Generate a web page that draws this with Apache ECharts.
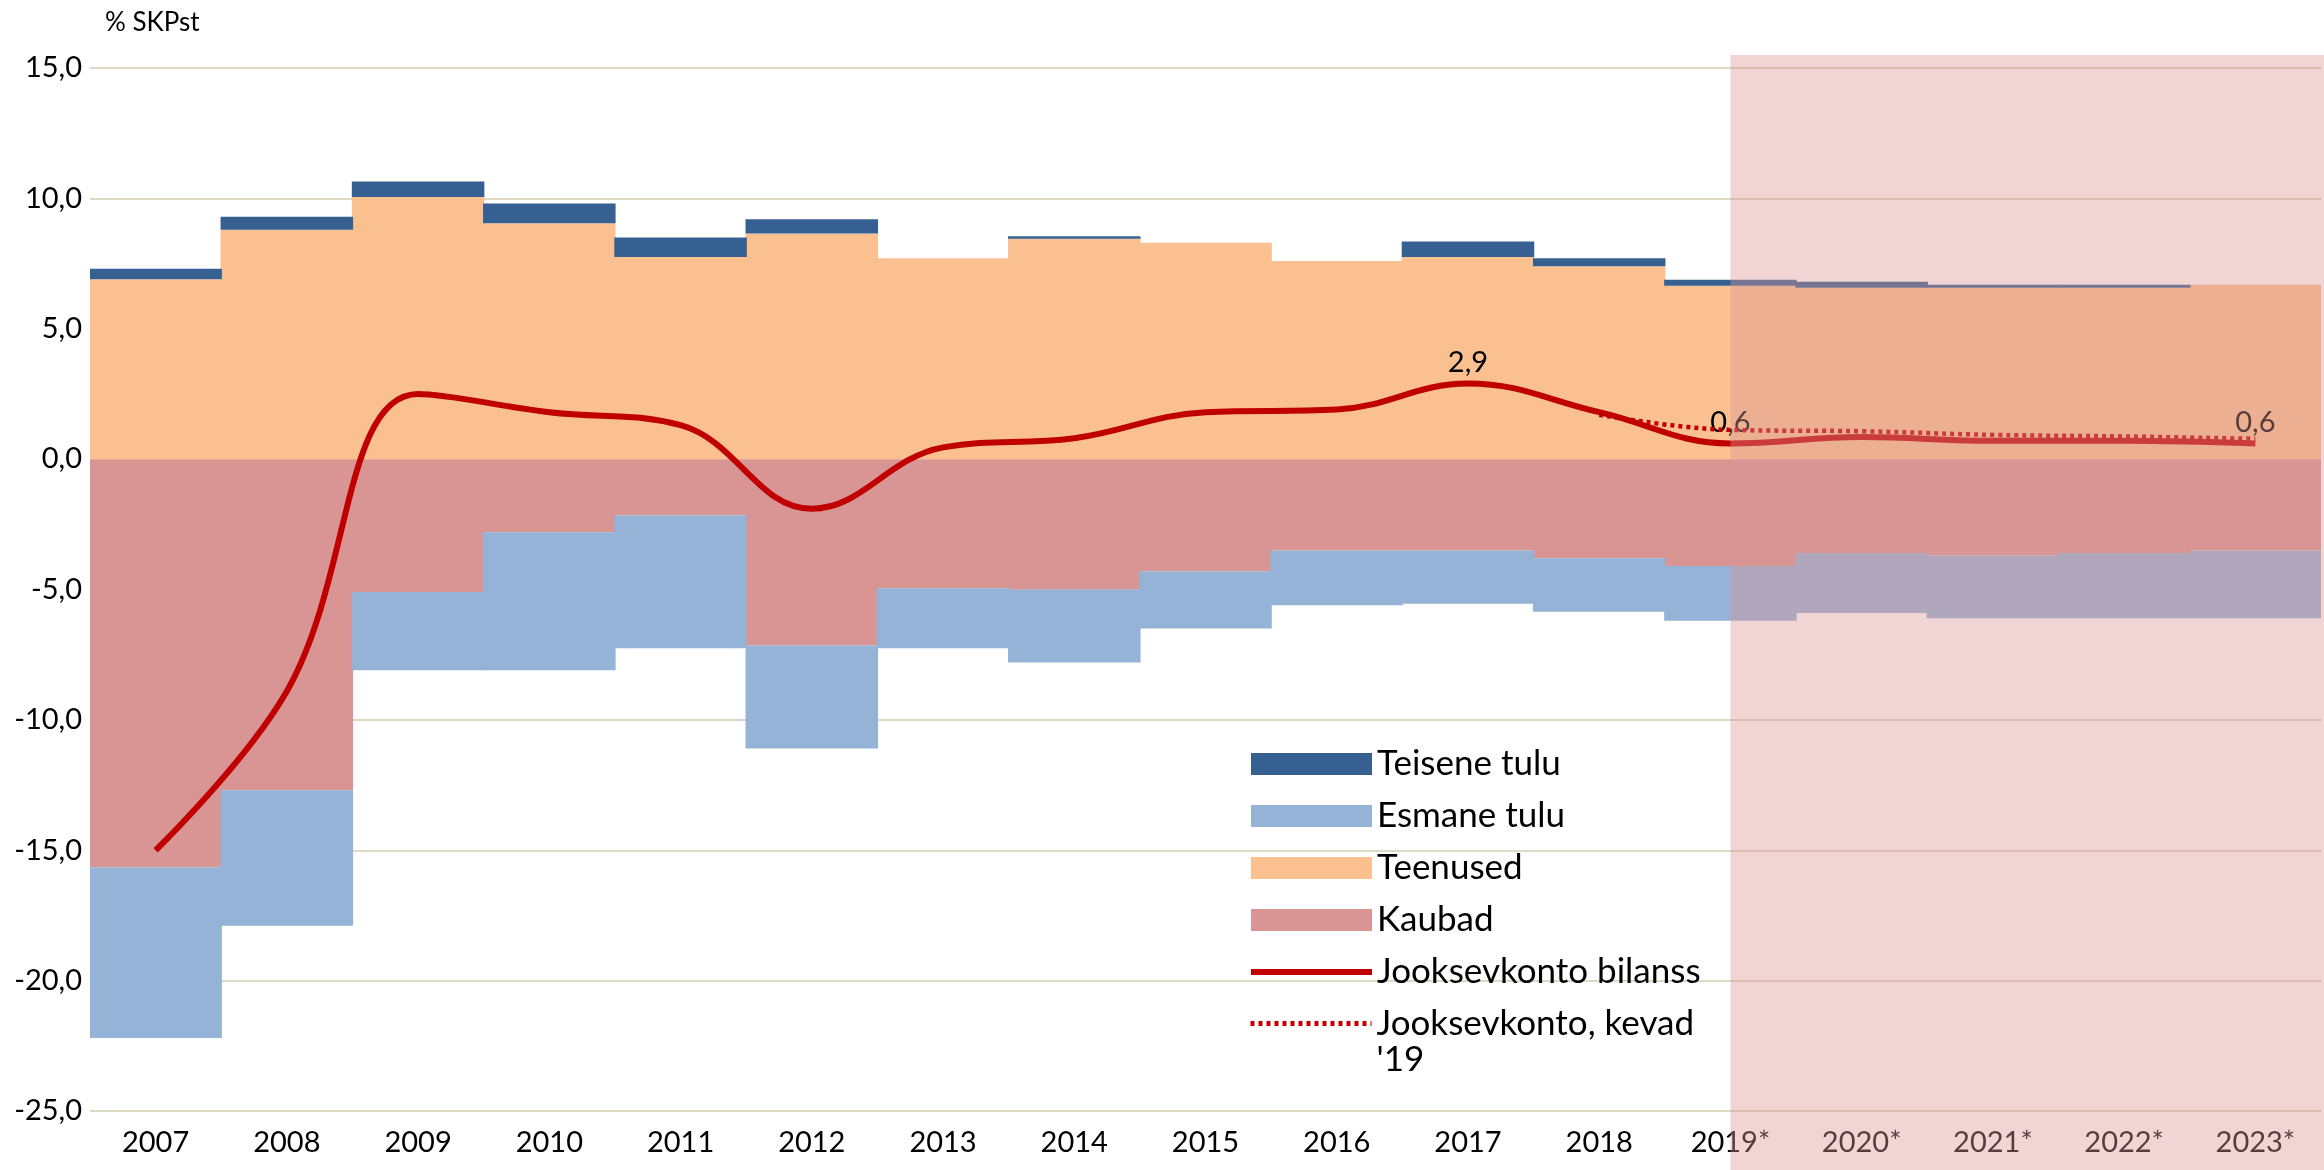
<!DOCTYPE html>
<html>
<head>
<meta charset="utf-8">
<title>Jooksevkonto</title>
<script src="https://cdn.jsdelivr.net/npm/echarts@6/dist/echarts.min.js"></script>
<style>
  html, body { margin: 0; padding: 0; background: #fff; }
  #chart { width: 2324px; height: 1170px; }
</style>
</head>
<body>
<div id="chart"></div>
<script>
// andmed (% SKPst)
var years = ['2007', '2008', '2009', '2010', '2011', '2012', '2013', '2014', '2015',
  '2016', '2017', '2018', '2019*', '2020*', '2021*', '2022*', '2023*'];
var teisene = [0.4, 0.5, 0.6, 0.75, 0.75, 0.55, 0, 0.1, 0, 0, 0.6, 0.3, 0.23, 0.23, 0.12, 0.12, 0];
var esmane = [-6.55, -5.2, -3.0, -5.3, -5.1, -3.95, -2.3, -2.8, -2.2, -2.1, -2.05, -2.05, -2.1, -2.3, -2.4, -2.5, -2.6];
var teenused = [6.9, 8.8, 10.05, 9.05, 7.75, 8.65, 7.7, 8.45, 8.3, 7.6, 7.75, 7.4, 6.65, 6.57, 6.57, 6.57, 6.69];
var kaubad = [-15.65, -12.7, -5.1, -2.8, -2.15, -7.15, -4.95, -5.0, -4.3, -3.5, -3.5, -3.8, -4.1, -3.6, -3.7, -3.6, -3.5];
var bilanss = [-15.0, -8.9, 2.5, 1.8, 1.3, -1.9, 0.45, 0.8, 1.8, 1.9, 2.9, 1.8, 0.6, 0.85, 0.7, 0.7, 0.6];
var kevad19 = [null, null, null, null, null, null, null, null, null, null, null, 1.7, 1.12, 1.07, 0.93, 0.87, 0.78];
var labelYears = ['2017', '2019*', '2023*'];
var forecastFrom = '2019*';

var font = 'Lato, "Open Sans", sans-serif';

function fmt(v) {
  return Number(v).toFixed(1).replace('.', ',');
}

var bilanssData = bilanss.map(function(v, i) {
  if (labelYears.indexOf(years[i]) < 0) return v;
  return {
    value: v,
    symbol: 'circle',
    symbolSize: 0.1,
    label: { show: true }
  };
});

// veidi üle 100%, et tulpade vahele ei jääks heledaid triipe
function barSeries(name, color, data) {
  return {
    name: name,
    type: 'bar',
    stack: 'jk',
    barWidth: '101%',
    itemStyle: { color: color },
    data: data
  };
}

var chart = echarts.init(document.getElementById('chart'));

var option = {
  animation: false,
  backgroundColor: '#fff',
  textStyle: { fontFamily: font },
  title: {
    text: '% SKPst',
    left: 100,
    top: 5,
    textStyle: { fontSize: 26, fontWeight: 'normal', color: '#000', fontFamily: font }
  },
  grid: { left: 90, right: 3, top: 68, bottom: 59 },
  legend: [{
    orient: 'vertical',
    left: 1248,
    top: 746,
    padding: 0,
    itemWidth: 121,
    itemHeight: 22,
    itemGap: 16,
    selectedMode: false,
    textStyle: { fontSize: 35, lineHeight: 36, color: '#000', fontFamily: font },
    data: [
      { name: 'Teisene tulu', icon: 'rect' },
      { name: 'Esmane tulu', icon: 'rect' },
      { name: 'Teenused', icon: 'rect' },
      { name: 'Kaubad', icon: 'rect' },
      { name: 'Jooksevkonto bilanss', itemStyle: { opacity: 0 }, lineStyle: { width: 6 } }
    ]
  }, {
    orient: 'vertical',
    left: 1248,
    top: 970,
    padding: 0,
    itemWidth: 121,
    itemHeight: 22,
    selectedMode: false,
    textStyle: {
      fontSize: 35,
      color: '#000',
      fontFamily: font,
      rich: {
        e: { fontSize: 35, lineHeight: 36, fontFamily: font },
        a: { fontSize: 35, lineHeight: 36, color: '#000', fontFamily: font }
      }
    },
    // esimene rida ikooni kõrgusele
    formatter: function(name) {
      return '{e| }\n' + name.split('\n').map(function(s) { return '{a|' + s + '}'; }).join('\n');
    },
    data: [{ name: 'Jooksevkonto, kevad\n\'19', itemStyle: { opacity: 0 }, lineStyle: { width: 5 } }]
  }],
  xAxis: {
    type: 'category',
    data: years,
    boundaryGap: true,
    axisLine: { show: false },
    axisTick: { show: false },
    axisLabel: { fontSize: 29, color: '#000', margin: 17, fontFamily: font }
  },
  yAxis: {
    type: 'value',
    min: -25,
    max: 15,
    interval: 5,
    axisLine: { show: false },
    axisTick: { show: false },
    axisLabel: { fontSize: 29, color: '#000', margin: 8, fontFamily: font, formatter: fmt },
    splitLine: { lineStyle: { color: '#DDD9C3', width: 2 } }
  },
  series: [
    barSeries('Kaubad', '#D99594', kaubad),
    barSeries('Teenused', '#FAC090', teenused),
    barSeries('Esmane tulu', '#95B3D7', esmane),
    barSeries('Teisene tulu', '#376092', teisene),
    {
      name: 'Jooksevkonto bilanss',
      type: 'line',
      smooth: 0.4,
      symbol: 'none',
      lineStyle: { color: '#C00000', width: 6 },
      itemStyle: { color: '#C00000' },
      label: {
        position: 'top',
        distance: 6,
        fontSize: 29,
        color: '#000',
        fontFamily: font,
        formatter: function(p) { return fmt(p.value); }
      },
      z: 3,
      data: bilanssData
    }, {
      name: 'Jooksevkonto, kevad\n\'19',
      type: 'line',
      smooth: 0.4,
      symbol: 'none',
      lineStyle: { color: '#C00000', width: 4.5, type: [4, 4] },
      itemStyle: { color: '#C00000' },
      z: 4,
      data: kevad19
    }
  ]
};

chart.setOption(option);

// prognoosiperioodi varjutus
var x0 = chart.convertToPixel({ xAxisIndex: 0 }, forecastFrom);
var y0 = chart.convertToPixel({ yAxisIndex: 0 }, 15.5);
chart.setOption({
  graphic: [{
    type: 'rect',
    z: 100,
    silent: true,
    shape: { x: x0, y: y0, width: chart.getWidth() - x0, height: chart.getHeight() - y0 },
    style: { fill: 'rgba(217,150,148,0.4)' }
  }]
});
</script>
</body>
</html>
